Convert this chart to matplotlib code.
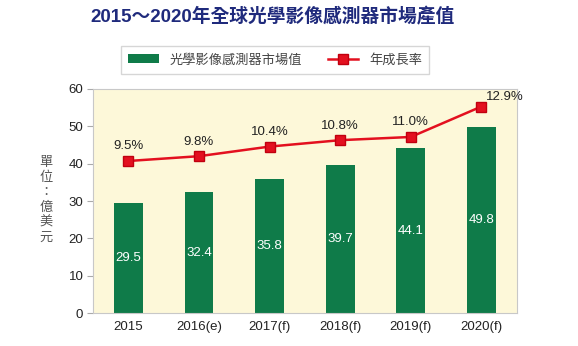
import numpy as np
import matplotlib.pyplot as plt

plt.rcParams['font.family'] = ['Liberation Sans', 'Noto Sans CJK TC', 'DejaVu Sans']

# data
years = ["2015", "2016(e)", "2017(f)", "2018(f)", "2019(f)", "2020(f)"]
market_value = [29.5, 32.4, 35.8, 39.7, 44.1, 49.8]
growth_rate = [9.5, 9.8, 10.4, 10.8, 11.0, 12.9]

GREEN = "#0f7b49"
RED = "#e3101f"
BG = "#fdf8d9"

fig = plt.figure(figsize=(5.78, 3.46), dpi=100)
ax = fig.add_axes([0.161, 0.095, 0.733, 0.648])
ax.set_facecolor(BG)

x = np.arange(len(years))
bars = ax.bar(x, market_value, width=0.41, color=GREEN, zorder=2,
              label="光學影像感測器市場值")
for xi, v in zip(x, market_value):
    ax.text(xi, v / 2, f"{v:.1f}", ha="center", va="center",
            color="white", fontsize=9.5, zorder=3)

ax.set_xlim(-0.5, len(years) - 0.5)
ax.set_ylim(0, 60)
ax.set_yticks(range(0, 61, 10))
ax.set_xticks(x)
ax.set_xticklabels(years)
ax.tick_params(axis="y", length=4, color="#aaaaaa", labelsize=9.5,
               labelcolor="#222222", pad=3)
ax.tick_params(axis="x", length=0, labelsize=9.5, labelcolor="#222222", pad=6)
for side in ["left", "bottom", "top", "right"]:
    ax.spines[side].set_color("#c8c8c8")
    ax.spines[side].set_linewidth(0.8)

# growth rate on hidden secondary scale
ax2 = ax.twinx()
ax2.set_ylim(0, 14)
ax2.set_yticks([])
for side in ["left", "bottom", "top", "right"]:
    ax2.spines[side].set_visible(False)
line, = ax2.plot(x, growth_rate, color=RED, lw=1.8, marker="s",
                 markersize=7, markerfacecolor=RED, markeredgecolor="#c0000f",
                 label="年成長率", zorder=4)
for i, (xi, r) in enumerate(zip(x, growth_rate)):
    offset = (17, 7) if i == len(x) - 1 else (0, 10.5)
    ax2.annotate(f"{r:.1f}%", (xi, r), xytext=offset,
                 textcoords="offset points", ha="center", va="center",
                 fontsize=9.5, color="#222222")

# y label, stacked characters
fig.text(0.08, 0.422, "單\n位\n：\n億\n美\n元", ha="center", va="center",
         fontsize=9.5, color="#555555", linespacing=1.2,
         family=["Noto Sans CJK TC", "DejaVu Sans"])

fig.text(0.471, 0.953, "2015～2020年全球光學影像感測器市場產值", ha="center",
         va="center", fontsize=13.5, fontweight="bold", color="#1f2a7c",
         family=["Liberation Sans", "Noto Sans CJK TC"])

leg = fig.legend(handles=[bars, line], loc="center",
                 bbox_to_anchor=(0.476, 0.827), ncol=2, frameon=True,
                 fancybox=False, edgecolor="#cccccc", fontsize=9.5,
                 handlelength=2.3, columnspacing=2.0, borderpad=0.55,
                 handletextpad=0.8)
for t in leg.get_texts():
    t.set_color("#444444")
    t.set_family(["Noto Sans CJK TC", "DejaVu Sans"])

fig.savefig("out.png", dpi=100)
